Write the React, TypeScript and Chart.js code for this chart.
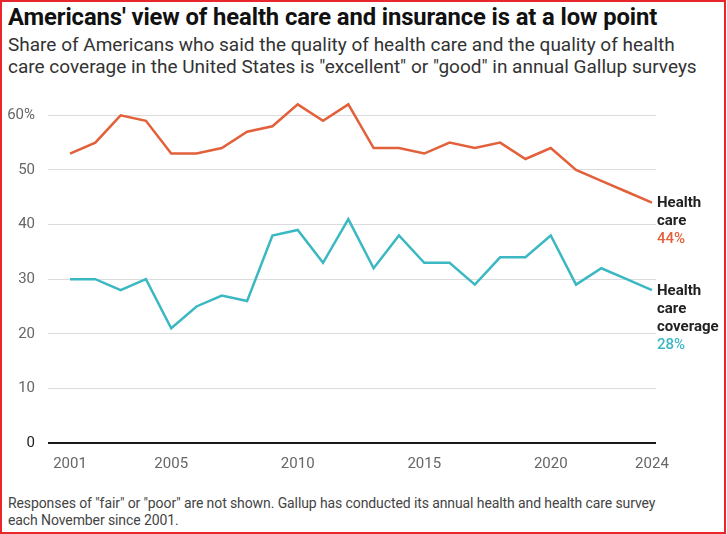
import React, { useEffect, useRef } from "react";
import { Chart, registerables } from "chart.js";

Chart.register(...registerables);

const years = [2001, 2002, 2003, 2004, 2005, 2006, 2007, 2008, 2009, 2010, 2011, 2012, 2013, 2014, 2015, 2016, 2017, 2018, 2019, 2020, 2021, 2022, 2023, 2024];
const healthCare = [53, 55, 60, 59, 53, 53, 54, 57, 58, 62, 59, 62, 54, 54, 53, 55, 54, 55, 52, 54, 50, 48, 46, 44];
const coverage = [30, 30, 28, 30, 21, 25, 27, 26, 38, 39, 33, 41, 32, 38, 33, 33, 29, 34, 34, 38, 29, 32, 30, 28];
const xTickYears = [2001, 2005, 2010, 2015, 2020, 2024];
const yTickValues = [0, 10, 20, 30, 40, 50, 60];
const seriesNames = ["Health care", "Health care coverage"];
const endLabelLines = [["Health", "care"], ["Health", "care", "coverage"]];
const endLabelValues = ["44%", "28%"];

const ORANGE = "#e2603a";
const TEAL = "#3bb8c2";
const FONT = "Roboto, 'Noto Sans', sans-serif";

const endLabelPlugin = {
  id: "endLabels",
  afterDatasetsDraw(chart: any) {
    const ctx = chart.ctx;
    ctx.save();
    chart.data.datasets.forEach((ds: any, i: number) => {
      const meta = chart.getDatasetMeta(i);
      const pt = meta.data[meta.data.length - 1];
      if (!pt) return;
      const x = pt.x + 5;
      let y = pt.y + 1;
      ctx.textAlign = "left";
      ctx.textBaseline = "middle";
      ctx.font = `bold 15px ${FONT}`;
      ctx.fillStyle = "#222";
      endLabelLines[i].forEach((line) => {
        ctx.fillText(line, x, y);
        y += 18;
      });
      ctx.font = `500 15px ${FONT}`;
      ctx.fillStyle = ds.borderColor;
      ctx.fillText(endLabelValues[i], x, y);
    });
    ctx.restore();
  },
};

function LineChart() {
  const ref = useRef<HTMLCanvasElement>(null);
  useEffect(() => {
    if (!ref.current) return;
    const chart = new Chart(ref.current, {
      type: "line",
      data: {
        datasets: [
          {
            label: seriesNames[0],
            data: years.map((y, i) => ({ x: y, y: healthCare[i] })),
            borderColor: ORANGE,
            borderWidth: 2.5,
            pointRadius: 0,
            tension: 0,
          },
          {
            label: seriesNames[1],
            data: years.map((y, i) => ({ x: y, y: coverage[i] })),
            borderColor: TEAL,
            borderWidth: 2.5,
            pointRadius: 0,
            tension: 0,
          },
        ],
      },
      options: {
        animation: false,
        responsive: true,
        maintainAspectRatio: false,
        layout: { padding: { top: 9, right: 71, bottom: 0, left: 0 } },
        plugins: { legend: { display: false }, tooltip: { enabled: false } },
        scales: {
          x: {
            type: "linear",
            min: 2000.13,
            max: 2024.16,
            grid: { display: false, drawTicks: false },
            border: { display: false },
            afterBuildTicks: (scale: any) => {
              scale.ticks = xTickYears.map((v) => ({ value: v }));
            },
            afterFit: (scale: any) => {
              scale.height = 39;
            },
            ticks: {
              autoSkip: false,
              maxRotation: 0,
              padding: 12,
              color: "#666",
              font: { family: FONT, size: 15 },
              callback: (v: any) => String(v),
            },
          },
          y: {
            min: 0,
            max: 65,
            afterBuildTicks: (scale: any) => {
              scale.ticks = yTickValues.map((v) => ({ value: v }));
            },
            afterFit: (scale: any) => {
              scale.width = 48;
            },
            grid: {
              drawTicks: false,
              color: (c: any) => (c.tick && c.tick.value === 0 ? "#1a1a1a" : "#dcdcdc"),
              lineWidth: (c: any) => (c.tick && c.tick.value === 0 ? 2 : 1),
            },
            border: { display: false },
            ticks: {
              padding: 13,
              color: (c: any) => (c.tick && c.tick.value === 0 ? "#222" : "#666"),
              font: { family: FONT, size: 15 },
              callback: (v: any) => (v === 60 ? "60%" : String(v)),
            },
          },
        },
      },
      plugins: [endLabelPlugin],
    });
    return () => chart.destroy();
  }, []);
  return <canvas ref={ref} />;
}

export default function App() {
  return (
    <div
      style={{
        position: "absolute",
        left: 0,
        top: 0,
        width: 726,
        height: 534,
        boxSizing: "border-box",
        border: "2px solid #e8262c",
        background: "#fff",
        fontFamily: FONT,
        overflow: "hidden",
      }}
    >
      <div
        style={{
          position: "absolute",
          left: 6,
          top: 2,
          fontSize: 23.8,
          lineHeight: "26px",
          fontWeight: 700,
          color: "#111",
          whiteSpace: "nowrap",
          letterSpacing: "-0.1px",
        }}
      >
        Americans' view of health care and insurance is at a low point
      </div>
      <div
        style={{
          position: "absolute",
          left: 6,
          top: 32,
          fontSize: 19,
          lineHeight: "22px",
          color: "#333",
          whiteSpace: "nowrap",
        }}
      >
        Share of Americans who said the quality of health care and the quality of health
        <br />
        care coverage in the United States is "excellent" or "good" in annual Gallup surveys
      </div>
      <div style={{ position: "absolute", left: -2, top: 64, width: 727, height: 416 }}>
        <LineChart />
      </div>
      <div
        style={{
          position: "absolute",
          left: 6,
          top: 493,
          fontSize: 14,
          lineHeight: "17px",
          color: "#444",
          whiteSpace: "nowrap",
          letterSpacing: "-0.1px",
        }}
      >
        Responses of "fair" or "poor" are not shown. Gallup has conducted its annual health and health care survey
        <br />
        each November since 2001.
      </div>
    </div>
  );
}
